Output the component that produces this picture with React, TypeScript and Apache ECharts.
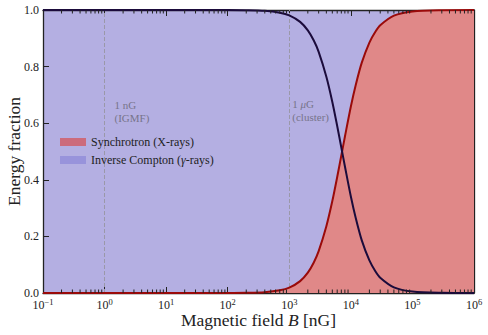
import React, { useEffect, useRef } from "react";
import * as echarts from "echarts";

// Magnetic field values (nG) at which the energy fractions were read
const B_VALUES = [0.1, 1, 10, 100, 200, 400, 700, 1000, 1500, 2000, 2500, 3000, 4000, 5000, 6000, 7000, 8000, 10000, 12000, 15000, 20000, 25000, 30000, 50000, 100000, 300000, 1000000];
// Synchrotron (X-rays) energy fraction
const SYNC = [0, 0, 0, 0.0002, 0.0008, 0.003, 0.0094, 0.019, 0.042, 0.072, 0.108, 0.148, 0.236, 0.325, 0.41, 0.486, 0.552, 0.659, 0.735, 0.813, 0.885, 0.923, 0.946, 0.98, 0.995, 0.9994, 1];
// Inverse Compton (gamma-rays) energy fraction
const IC = [1, 1, 1, 0.9998, 0.9992, 0.997, 0.9906, 0.981, 0.958, 0.928, 0.892, 0.852, 0.764, 0.675, 0.59, 0.514, 0.448, 0.341, 0.265, 0.187, 0.115, 0.077, 0.054, 0.02, 0.005, 0.0006, 0];

const X_TICK_EXPONENTS = ["\u22121", "0", "1", "2", "3", "4", "5", "6"];
const Y_TICK_LABELS = ["0.0", "0.2", "0.4", "0.6", "0.8", "1.0"];
const MINOR_DECADES = [0.1, 1, 10, 100, 1000, 10000, 100000];
const MINOR_MULTIPLIERS = [2, 3, 4, 5, 6, 7, 8, 9];
const REFERENCE_LINES = [1, 1000];

const SYNC_NAME = "Synchrotron (X-rays)";
const IC_NAME = "Inverse Compton (\u03b3-rays)";

const FONT = "Liberation Serif";

export default function App() {
  const ref = useRef<HTMLDivElement>(null);
  useEffect(() => {
    if (!ref.current) return;
    document.body.style.margin = "0";
    const chart = echarts.init(ref.current, undefined, { renderer: "svg" });
    const syncData = B_VALUES.map((b, i) => [b, SYNC[i]]);
    const icData = B_VALUES.map((b, i) => [b, IC[i]]);
    const minorTicks: number[][] = [];
    MINOR_DECADES.forEach((d) => MINOR_MULTIPLIERS.forEach((m) => minorTicks.push([d * m])));

    const supRich = {
      b: { fontSize: 12, fontFamily: FONT, color: "#222" },
      s: { fontSize: 8.5, fontFamily: FONT, color: "#222", verticalAlign: "bottom", padding: [0, 0, 6, 0] },
    };

    const xBase = {
      type: "log",
      logBase: 10,
      min: 0.1,
      max: 1000000,
      splitLine: { show: false },
      axisLine: { show: true, onZero: false, lineStyle: { color: "#222", width: 1.3 } },
      axisTick: { show: true, inside: true, length: 6, lineStyle: { color: "#222", width: 1 } },
    };
    const yBase = {
      type: "value",
      min: 0,
      max: 1,
      interval: 0.2,
      splitLine: { show: false },
      axisLine: { show: true, lineStyle: { color: "#222", width: 1.3 } },
      axisTick: { show: true, inside: true, length: 6, lineStyle: { color: "#222", width: 1 } },
    };

    chart.setOption({
      animation: false,
      grid: {
        left: 43,
        right: 14,
        top: 10,
        bottom: 42,
        show: true,
        backgroundColor: "#b4afe2",
        borderWidth: 0,
        containLabel: false,
        outerBoundsMode: "none",
      },
      xAxis: [
        {
          ...xBase,
          position: "bottom",
          name: "{n|Magnetic field }{i|B}{n| [nG]}",
          nameLocation: "middle",
          nameGap: 18,
          nameMoveOverlap: false,
          nameTextStyle: {
            rich: {
              n: { fontSize: 17.5, fontFamily: FONT, color: "#222" },
              i: { fontSize: 17.5, fontFamily: FONT, fontStyle: "italic", color: "#222" },
            },
          },
          axisLabel: {
            margin: 4,
            formatter: (_v: number, idx: number) => `{b|10}{s|${X_TICK_EXPONENTS[idx] ?? ""}}`,
            rich: supRich,
          },
        },
        {
          ...xBase,
          position: "top",
          axisLabel: { show: false },
        },
      ],
      yAxis: [
        {
          ...yBase,
          position: "left",
          name: "Energy fraction",
          nameLocation: "middle",
          nameGap: 20,
          nameMoveOverlap: false,
          nameTextStyle: { fontSize: 17.5, fontFamily: FONT, color: "#222" },
          axisLabel: {
            margin: 4,
            fontSize: 12,
            fontFamily: FONT,
            color: "#222",
            formatter: (_v: number, idx: number) => Y_TICK_LABELS[idx] ?? "",
          },
        },
        {
          ...yBase,
          position: "right",
          axisLabel: { show: false },
        },
      ],
      legend: {
        left: 55,
        top: 131,
        orient: "vertical",
        icon: "rect",
        itemWidth: 26,
        itemHeight: 8,
        itemGap: 6,
        textStyle: {
          rich: {
            n: { fontSize: 12, fontFamily: FONT, color: "#222" },
            i: { fontSize: 12, fontFamily: FONT, fontStyle: "italic", color: "#222" },
          },
        },
        data: [
          { name: SYNC_NAME, itemStyle: { color: "#cc6b7c", borderWidth: 0 } },
          { name: IC_NAME, itemStyle: { color: "#9893db", borderWidth: 0 } },
        ],
        formatter: (name: string) =>
          name === IC_NAME
            ? "{n|Inverse Compton (}{i|\u03b3}{n|-rays)}"
            : `{n|${name}}`,
      },
      series: [
        {
          name: SYNC_NAME,
          type: "line",
          data: syncData,
          smooth: 0.3,
          showSymbol: false,
          symbol: "none",
          lineStyle: { color: "#9a0a0a", width: 2 },
          itemStyle: { color: "#9a0a0a" },
          areaStyle: { color: "#e08888", opacity: 1 },
          z: 3,
          markLine: {
            silent: true,
            symbol: ["none", "none"],
            label: { show: false },
            lineStyle: { type: "dashed", color: "#9a98a8", width: 1 },
            data: REFERENCE_LINES.map((v) => ({ xAxis: v })),
            z: 1,
          },
          markPoint: {
            silent: true,
            symbol: "rect",
            symbolSize: 0,
            data: [
              {
                coord: [1.45, 0.641],
                label: {
                  show: true,
                  position: "right",
                  distance: 0,
                  formatter: "1 nG\n(IGMF)",
                  fontSize: 11,
                  lineHeight: 13,
                  fontFamily: FONT,
                  color: "#77748a",
                  align: "left",
                },
              },
              {
                coord: [1120, 0.645],
                label: {
                  show: true,
                  position: "right",
                  distance: 0,
                  formatter: "{n|1 }{i|\u03bc}{n|G}\n{n|(cluster)}",
                  align: "left",
                  rich: {
                    n: { fontSize: 11, lineHeight: 13, fontFamily: FONT, color: "#77748a" },
                    i: { fontSize: 11, lineHeight: 13, fontFamily: FONT, fontStyle: "italic", color: "#77748a" },
                  },
                },
              },
            ],
          },
        },
        {
          name: IC_NAME,
          type: "line",
          data: icData,
          smooth: 0.3,
          showSymbol: false,
          symbol: "none",
          lineStyle: { color: "#1b0b3b", width: 2 },
          itemStyle: { color: "#1b0b3b" },
          z: 4,
        },
        {
          name: "minorTicks",
          type: "custom",
          data: minorTicks,
          encode: { x: 0 },
          silent: true,
          z: 10,
          renderItem: (_params: any, api: any) => {
            const v = api.value(0);
            const bottom = api.coord([v, 0]);
            const top = api.coord([v, 1]);
            const style = { stroke: "#222", lineWidth: 1 };
            return {
              type: "group",
              children: [
                { type: "line", shape: { x1: bottom[0], y1: bottom[1], x2: bottom[0], y2: bottom[1] - 3.5 }, style },
                { type: "line", shape: { x1: top[0], y1: top[1], x2: top[0], y2: top[1] + 3.5 }, style },
              ],
            };
          },
        },
      ],
    });
    return () => chart.dispose();
  }, []);
  return <div ref={ref} style={{ width: 488, height: 335 }} />;
}
